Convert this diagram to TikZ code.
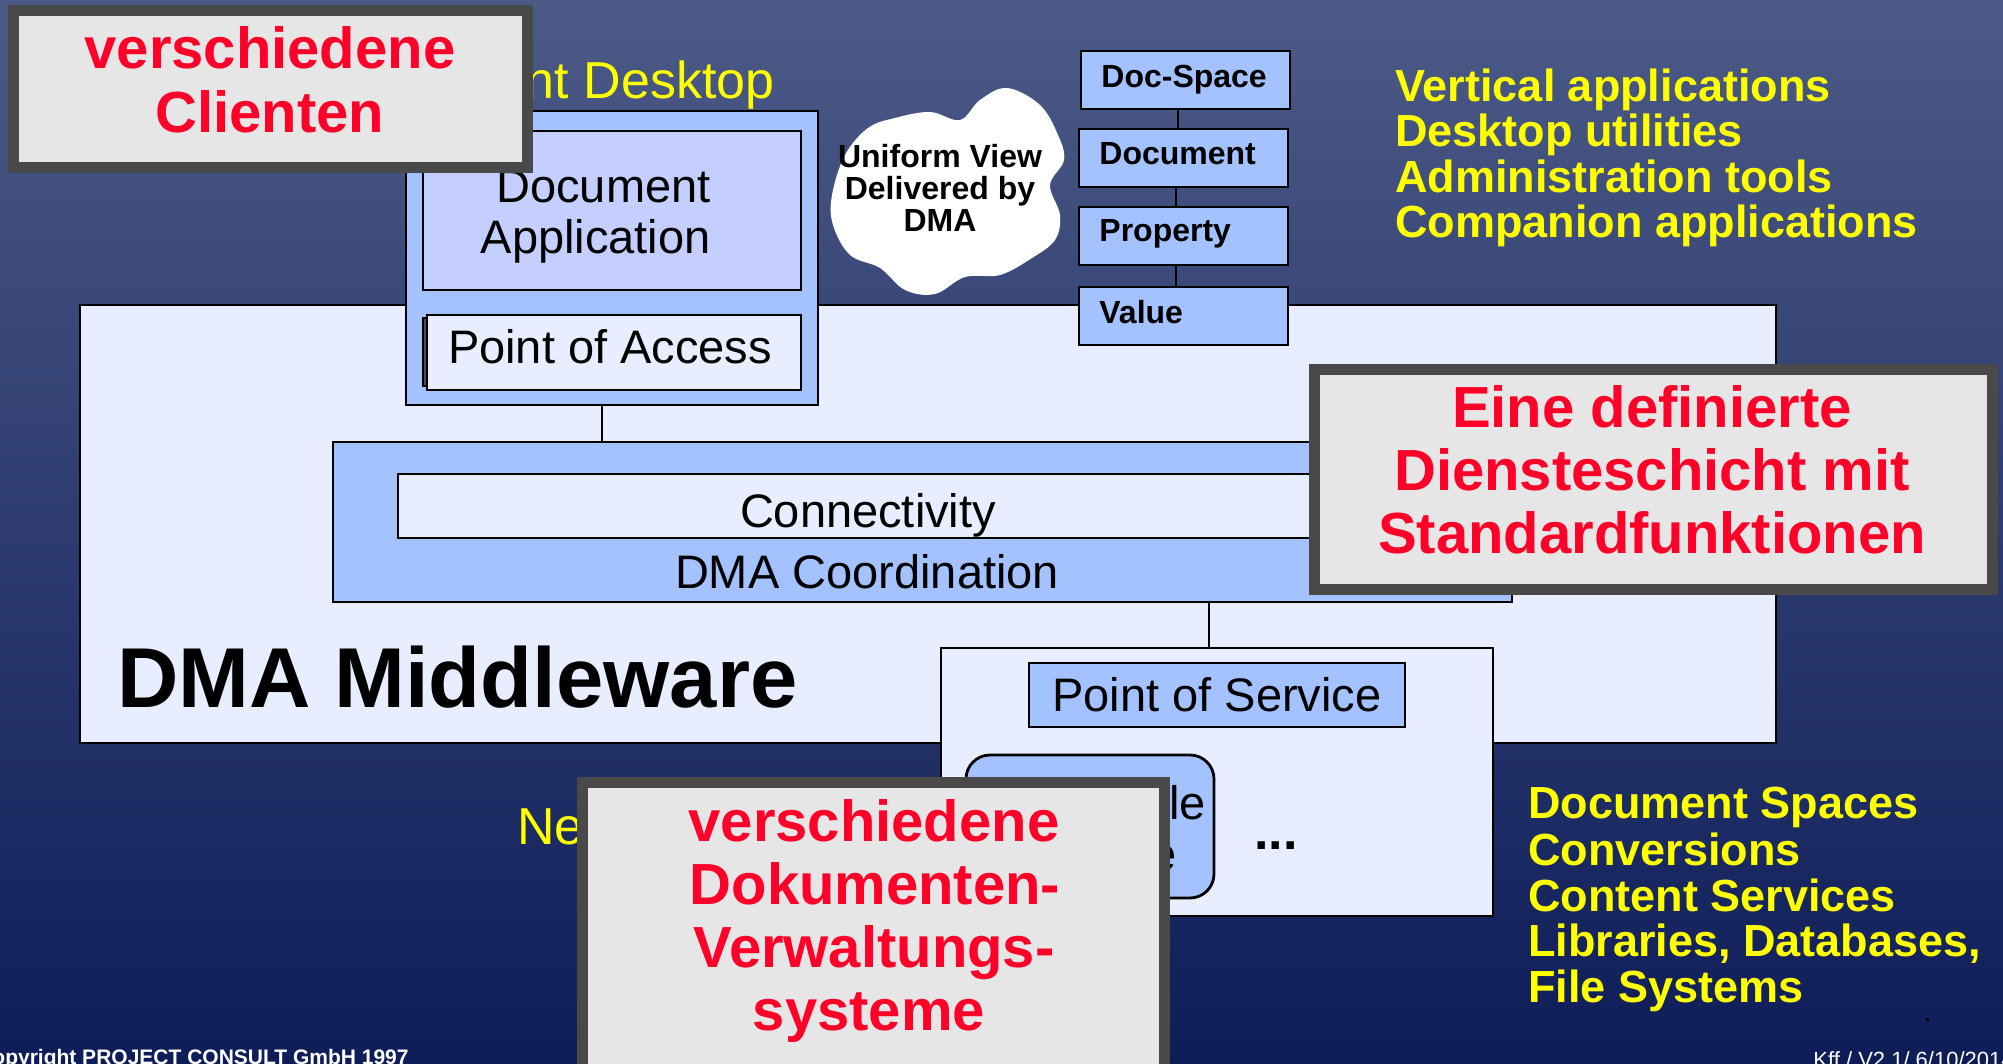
\documentclass[tikz,border=0pt]{standalone}
\usepackage{fontspec}
\setmainfont{Liberation Sans}
\definecolor{bgtop}{RGB}{76,90,135}
\definecolor{bgbot}{RGB}{14,29,88}
\definecolor{lblue}{RGB}{164,194,255}
\definecolor{lav}{RGB}{196,206,255}
\definecolor{pale}{RGB}{232,238,255}
\definecolor{calfill}{RGB}{230,230,230}
\definecolor{calframe}{RGB}{73,73,73}
\definecolor{calred}{RGB}{255,0,40}
\definecolor{ylw}{RGB}{255,255,0}
\begin{document}
\begin{tikzpicture}[x=0.5pt,y=-0.5pt,
  box/.style={draw=black, line width=1.4pt, inner sep=0pt, outer sep=0pt},
  bluebox/.style={box, fill=lblue},
  palebox/.style={box, fill=pale},
  callout/.style={draw=calframe, fill=calfill, line width=5.5pt, inner sep=0pt, outer sep=0pt},
  redtxt/.style={font=\fontsize{29}{31}\selectfont\bfseries, text=calred, inner sep=0pt, anchor=base},
  bodytxt/.style={font=\fontsize{23.5}{28}\selectfont, inner sep=0pt, anchor=base},
  ytitle/.style={font=\fontsize{26}{30}\selectfont, text=ylw, inner sep=0pt},
  ylist/.style={font=\fontsize{22.5}{26}\selectfont\bfseries, text=ylw, inner sep=0pt, anchor=base west},
  smallbold/.style={font=\fontsize{16}{19}\selectfont\bfseries, inner sep=0pt, anchor=base},
  foot/.style={font=\fontsize{11}{13}\selectfont, text=white, inner sep=0pt},
  link/.style={draw=black, line width=1pt}
]
\clip (0,0) rectangle (2003,1064);
\shade[top color=bgtop, bottom color=bgbot] (0,0) rectangle (2003,1064);

% middleware
\node[palebox, minimum width=848pt, minimum height=219pt] (mw) at (928,524) {};
\node[bodytxt, font=\fontsize{42.5}{48}\selectfont\bfseries, anchor=base west] (mwt) at (117,707) {DMA Middleware};

% client desktop
\node[bluebox, minimum width=206pt, minimum height=147pt] (cd) at (612,258) {};
\node[box, fill=lav, minimum width=189pt, minimum height=79.5pt] (app) at (612,210.5) {};
\node[bodytxt, anchor=base east] (appt1) at (711,203) {Document};
\node[bodytxt, anchor=base east] (appt2) at (711,254) {Application};
\node[box, fill=black!70, minimum width=187pt, minimum height=34pt] (poash) at (610,352) {};
\node[palebox, minimum width=187pt, minimum height=37.5pt] (poa) at (614,352.5) {};
\node[bodytxt] (poat) at (610,364) {Point of Access};

% coordination
\node[bluebox, minimum width=589.5pt, minimum height=80pt] (dmac) at (922.5,522) {};
\node[palebox, minimum width=524.5pt, minimum height=32pt] (conn) at (922.5,506) {};
\node[bodytxt] (connt) at (868,527) {Connectivity};
\node[bodytxt] (dmact) at (867,588) {DMA Coordination};
\draw[link] ([xshift=-5pt]cd.south) -- ([xshift=-5pt]cd.south |- dmac.north);

% service
\node[palebox, minimum width=276pt, minimum height=134pt] (svc) at (1217,782) {};
\node[bluebox, minimum width=188pt, minimum height=32pt] (pos) at (1217,695) {};
\node[bodytxt] (post) at (1217,711) {Point of Service};
\node[bluebox, rounded corners=12pt, minimum width=124pt, minimum height=71.5pt] (dms) at (1090,826.5) {};
\node[bodytxt, anchor=base east] (dmst1) at (1206,819) {le};
\node[bodytxt, anchor=base east] (dmst2) at (1177,870) {e};
\node[bodytxt, font=\fontsize{26}{30}\selectfont\bfseries] (dots) at (1276,849) {...};
\draw[link] ([xshift=-4pt]svc.north) -- ([xshift=-4pt]svc.north |- dmac.south);

% object chain
\node[bluebox, minimum width=104.5pt, minimum height=29pt] (ds) at (1185.5,80) {};
\node[bluebox, minimum width=104.5pt, minimum height=29pt] (doc) at (1183.5,158) {};
\node[bluebox, minimum width=104.5pt, minimum height=29pt] (prop) at (1183.5,236) {};
\node[bluebox, minimum width=104.5pt, minimum height=29pt] (val) at (1183.5,316) {};
\draw[link] ([xshift=-3.75pt]ds.south) -- ([xshift=-3.75pt]ds.south |- doc.north);
\draw[link] ([xshift=-3.75pt]doc.south) -- ([xshift=-3.75pt]doc.south |- prop.north);
\draw[link] ([xshift=-3.75pt]prop.south) -- ([xshift=-3.75pt]prop.south |- val.north);
\node[smallbold, anchor=base west] (dst) at (1101,88) {Doc-Space};
\node[smallbold, anchor=base west] (doct) at (1099,165) {Document};
\node[smallbold, anchor=base west] (propt) at (1099,242) {Property};
\node[smallbold, anchor=base west] (valt) at (1099,323) {Value};

% cloud
\fill[white] plot[smooth cycle, tension=0.6] coordinates {(1007,88) (1040,105) (1058,135) (1064,160) (1050,185) (1060,215) (1055,240) (1032,258) (1000,275) (965,277) (935,294) (905,290) (880,268) (850,255) (833,225) (832,195) (845,155) (868,128) (895,118) (930,112) (960,120) (980,100)};
\node[smallbold] (cl1) at (940,168) {Uniform View};
\node[smallbold] (cl2) at (940,200) {Delivered by};
\node[smallbold] (cl3) at (940,232) {DMA};

% yellow labels
\node[ytitle, anchor=base east] (cdt) at (775,99) {Client Desktop};
\node[ytitle, anchor=base west] (net) at (517,844) {Ne};
\node[ylist] (y1) at (1395,102) {Vertical applications};
\node[ylist] (y2) at (1395,147) {Desktop utilities};
\node[ylist] (y3) at (1395,193) {Administration tools};
\node[ylist] (y4) at (1395,238) {Companion applications};
\node[ylist] (z1) at (1528,818) {Document Spaces};
\node[ylist] (z2) at (1528,865) {Conversions};
\node[ylist] (z3) at (1528,911) {Content Services};
\node[ylist] (z4) at (1528,956) {Libraries, Databases,};
\node[ylist] (z5) at (1528,1002) {File Systems};

% callouts
\node[callout, minimum width=257pt, minimum height=78.5pt] (c1) at (270.5,89) {};
\node[redtxt] (c1a) at (270,69) {verschiedene};
\node[redtxt] (c1b) at (270,133) {Clienten};

\node[callout, minimum width=339pt, minimum height=110pt] (c2) at (1653,479) {};
\node[redtxt] (c2a) at (1652,427) {Eine definierte};
\node[redtxt] (c2b) at (1652,490) {Diensteschicht mit};
\node[redtxt] (c2c) at (1652,553) {Standardfunktionen};

\node[callout, minimum width=291pt, minimum height=149pt] (c3) at (873,931) {};
\node[redtxt] (c3a) at (874,841) {verschiedene};
\node[redtxt] (c3b) at (875,904) {Dokumenten-};
\node[redtxt] (c3c) at (874,967) {Verwaltungs-};
\node[redtxt] (c3d) at (869,1030) {systeme};

% footer
\node[foot, font=\fontsize{10.5}{12}\selectfont\bfseries, anchor=base east] (cpr) at (409,1064) {Copyright PROJECT CONSULT GmbH 1997};
\node[foot, anchor=base west] (ver) at (1813,1067) {Kff / V2.1/ 6/10/2014};
\fill[black] (1926,1018) rectangle (1929,1021);
\end{tikzpicture}
\end{document}
